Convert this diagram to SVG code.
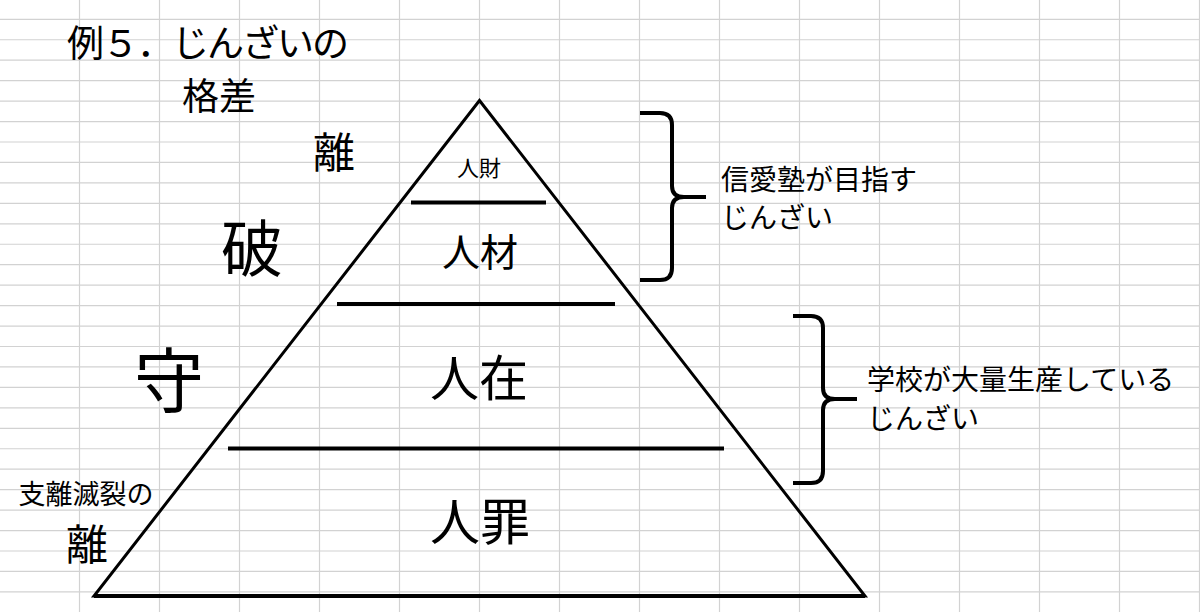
<svg xmlns="http://www.w3.org/2000/svg" width="1200" height="612" viewBox="0 0 1200 612">
<style>
.g{stroke:#d2d2d2;stroke-width:1.2;fill:none}
.k{stroke:#000;fill:none;stroke-linecap:butt}
.t{font-family:"Noto Sans CJK JP","Noto Sans CJK SC",sans-serif;fill:#000}
.m{text-anchor:middle}
</style>
<rect width="1200" height="612" fill="#fff"/>
<g id="grid">
<path class="g" d="M79.5,0V612M159.5,0V612M239.5,0V612M319.5,0V612M399.5,0V612M479.5,0V612M559.5,0V612M639.5,0V612M719.5,0V612M799.5,0V612M879.5,0V612M959.5,0V612M1039.5,0V612M1119.5,0V612M1199.5,0V612"/>
<path class="g" d="M0,19.3H1200M0,39.75H1200M0,60.2H1200M0,80.65H1200M0,101.1H1200M0,121.55H1200M0,142H1200M0,162.45H1200M0,182.9H1200M0,203.35H1200M0,223.8H1200M0,244.25H1200M0,264.7H1200M0,285.15H1200M0,305.6H1200M0,326.05H1200M0,346.5H1200M0,366.95H1200M0,387.4H1200M0,407.85H1200M0,428.3H1200M0,448.75H1200M0,469.2H1200M0,489.65H1200M0,510.1H1200M0,530.55H1200M0,551H1200M0,571.45H1200M0,591.9H1200"/>
</g>
<g id="title">
<text class="t" x="67" y="57" font-size="37" letter-spacing="-2">例５．じんざいの</text>
<text class="t m" x="219" y="110" font-size="37">格差</text>
</g>
<g id="pyramid">
<polygon class="k" stroke-width="3" stroke-linejoin="miter" points="479.5,100.5 94,596 865,596"/>
<line class="k" stroke-width="4" x1="94" y1="596" x2="865" y2="596"/>
<line class="k" stroke-width="4" x1="411" y1="202.5" x2="546" y2="202.5"/>
<line class="k" stroke-width="4" x1="337" y1="304" x2="615" y2="304"/>
<line class="k" stroke-width="4" x1="228" y1="448.5" x2="724" y2="448.5"/>
</g>
<g id="level-jinzai-treasure"><text class="t m" x="479" y="176" font-size="22">人財</text></g>
<g id="level-jinzai-material"><text class="t m" x="480" y="266" font-size="38">人材</text></g>
<g id="level-jinzai-present"><text class="t m" x="479" y="396" font-size="49">人在</text></g>
<g id="level-jinzai-sin"><text class="t m" x="480" y="540" font-size="50">人罪</text></g>
<g id="label-ri-top"><text class="t m" x="334" y="168" font-size="42">離</text></g>
<g id="label-ha"><text class="t m" x="252" y="272" font-size="62">破</text></g>
<g id="label-shu"><text class="t m" x="169" y="407" font-size="70">守</text></g>
<g id="label-ri-bottom">
<text class="t m" x="86" y="504" font-size="27">支離滅裂の</text>
<text class="t m" x="87" y="560" font-size="42">離</text>
</g>
<g id="connectors">
<path class="k" stroke-width="4" d="M640,113H660Q672,113 672,125V186Q672,197 684,197H706M684,197Q672,197 672,208V268Q672,280 660,280H640"/>
<path class="k" stroke-width="4" d="M793,316H811Q823,316 823,328V388Q823,399 835,399H857M835,399Q823,399 823,410V471Q823,483 811,483H793"/>
</g>
<g id="note-juku">
<text class="t" x="721" y="190" font-size="28">信愛塾が目指す</text>
<text class="t" x="721" y="228" font-size="28">じんざい</text>
</g>
<g id="note-school">
<text class="t" x="867" y="390" font-size="28">学校が大量生産している</text>
<text class="t" x="867" y="429" font-size="28">じんざい</text>
</g>
</svg>
